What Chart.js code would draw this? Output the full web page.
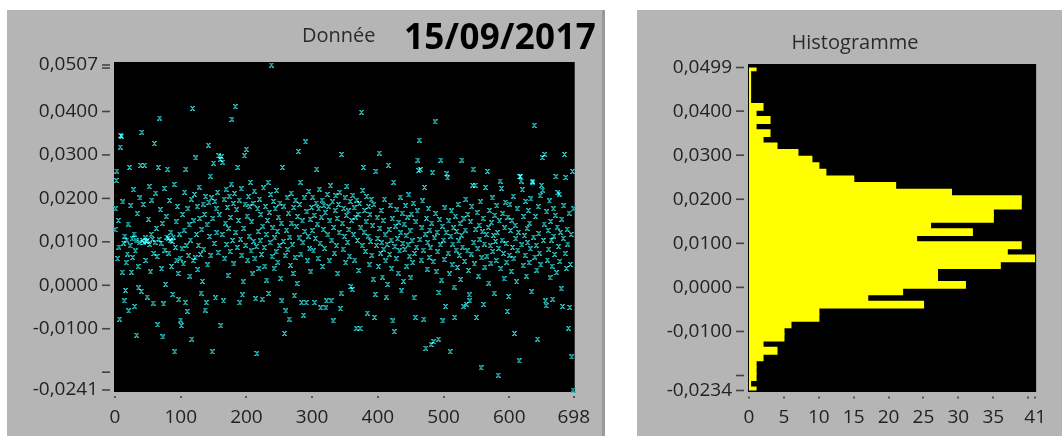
<!DOCTYPE html>
<html lang="fr">
<head>
<meta charset="utf-8">
<title>Donnée - Histogramme</title>
<script src="https://cdn.jsdelivr.net/npm/chart.js@4.4.1/dist/chart.umd.min.js"></script>
<style>
  html, body { margin: 0; padding: 0; background: #fff; }
  body { position: relative; width: 1062px; height: 436px; overflow: hidden; font-family: 'Open Sans', sans-serif; }
  .panneau { position: absolute; top: 10px; height: 426px; background: #b5b5b5; }
  #panneau-donnee { left: 7px; width: 595px; border-right: 3px solid #999; }
  #panneau-histo { left: 637px; width: 425px; }
  canvas { position: absolute; top: 0; }
  #chart-donnee { left: 0; }
  #chart-histo { left: 637px; }
  .texte { position: absolute; line-height: 1; white-space: nowrap; color: #2b2b2b; }
  #lbl-donnee { left: 302px; top: 25px; font-size: 20px; }
  #lbl-date { left: 404px; top: 18px; font-size: 35px; font-weight: 700; color: #000; letter-spacing: 0.3px; }
  #lbl-histo { left: 755px; width: 200px; text-align: center; top: 32px; font-size: 20px; }
</style>
</head>
<body>
<div class="panneau" id="panneau-donnee"></div>
<div class="panneau" id="panneau-histo"></div>
<canvas id="chart-donnee" width="606" height="436"></canvas>
<canvas id="chart-histo" width="425" height="436"></canvas>
<div class="texte" id="lbl-donnee">Donnée</div>
<div class="texte" id="lbl-date">15/09/2017</div>
<div class="texte" id="lbl-histo">Histogramme</div>
<script>
// Mesures du jour, une valeur par échantillon (index 0 à 698)
const VALEURS = [
  0.0128, 0.0176, 0.0241, 0.0263, 0.0061, 0.0149, 0.0088, -0.0078, 0.0318, 0.0345, 0.0343, 0.0030, 0.0192, 0.0097, -0.0036, 0.0113, -0.0012, 0.0052, 0.0104, 0.0072,
  0.0141, -0.0059, 0.0271, 0.0091, 0.0183, 0.0030, 0.0107, 0.0064, 0.0220, 0.0118, -0.0049, 0.0079, 0.0102, -0.0115, 0.0165, 0.0043, -0.0006, 0.0098, 0.0201, 0.0276,
  -0.0014, 0.0352, 0.0103, 0.0186, 0.0098, 0.0276, 0.0109, 0.0057, 0.0101, -0.0027, 0.0104, 0.0152, 0.0227, 0.0094, 0.0031, 0.0117, 0.0196, 0.0106, -0.0041, 0.0073,
  0.0326, 0.0099, 0.0212, 0.0131, 0.0066, -0.0091, 0.0271, 0.0105, 0.0385, 0.0174, 0.0097, 0.0038, 0.0142, -0.0119, -0.0043, 0.0223, 0.0081, 0.0002, 0.0158, 0.0111,
  0.0267, 0.0108, 0.0074, 0.0195, 0.0103, 0.0122, 0.0043, 0.0101, -0.0021, 0.0111, 0.0232, -0.0153, 0.0087, 0.0146, 0.0058, 0.0181, 0.0027, -0.0033, 0.0118, 0.0062,
  -0.0080, -0.0093, 0.0084, 0.0163, 0.0049, 0.0127, 0.0214, -0.0040, 0.0267, 0.0091, -0.0060, 0.0176, 0.0068, 0.0139, 0.0021, 0.0104, 0.0198, -0.0124, 0.0407, 0.0057,
  0.0148, 0.0209, 0.0063, 0.0293, 0.0117, 0.0181, 0.0036, 0.0092, 0.0226, 0.0154, 0.0071, -0.0018, 0.0128, 0.0009, 0.0187, 0.0083, 0.0163, -0.0057, 0.0204, -0.0040,
  0.0139, 0.0047, 0.0322, 0.0191, 0.0112, 0.0251, 0.0068, 0.0201, -0.0153, 0.0154, 0.0281, 0.0096, 0.0193, -0.0029, 0.0176, 0.0121, 0.0214, 0.0075, 0.0298, 0.0162,
  0.0290, -0.0093, 0.0296, 0.0117, 0.0283, -0.0036, 0.0198, 0.0061, 0.0143, 0.0221, 0.0094, 0.0179, 0.0022, 0.0131, 0.0205, 0.0078, 0.0156, 0.0233, 0.0382, 0.0103,
  0.0188, 0.0049, 0.0211, 0.0411, 0.0122, 0.0174, 0.0087, 0.0271, 0.0149, 0.0196, -0.0040, 0.0106, 0.0222, 0.0069, -0.0022, 0.0008, 0.0131, 0.0298, 0.0187, 0.0092,
  0.0313, 0.0159, 0.0058, 0.0204, 0.0113, 0.0181, 0.0237, 0.0079, 0.0146, 0.0026, 0.0188, 0.0101, 0.0217, 0.0061, -0.0031, 0.0089, -0.0157, 0.0176, 0.0124, 0.0039,
  0.0198, 0.0102, 0.0163, 0.0071, -0.0032, 0.0136, 0.0224, 0.0087, 0.0044, 0.0181, 0.0117, 0.0012, 0.0149, 0.0237, -0.0019, 0.0168, 0.0098, 0.0209, 0.0507, 0.0066,
  0.0132, 0.0193, 0.0038, 0.0109, 0.0176, 0.0077, 0.0218, 0.0124, 0.0053, 0.0157, 0.0091, 0.0189, 0.0016, 0.0143, -0.0036, 0.0271, 0.0101, 0.0182, -0.0111, 0.0068,
  -0.0059, 0.0127, 0.0201, 0.0082, 0.0166, -0.0078, 0.0111, 0.0046, 0.0212, 0.0143, 0.0093, 0.0027, 0.0179, -0.0024, 0.0064, 0.0196, 0.0135, 0.0004, 0.0158, 0.0308,
  0.0109, 0.0186, 0.0237, 0.0072, -0.0040, 0.0148, 0.0098, -0.0069, 0.0201, 0.0124, 0.0330, -0.0040, 0.0169, 0.0056, 0.0113, 0.0216, 0.0084, 0.0152, 0.0031, 0.0179,
  0.0126, 0.0203, 0.0079, 0.0161, -0.0040, 0.0108, 0.0189, 0.0267, 0.0141, 0.0062, 0.0176, 0.0221, 0.0097, -0.0052, 0.0157, 0.0196, 0.0043, 0.0128, 0.0184, 0.0085,
  0.0167, -0.0052, -0.0036, 0.0209, 0.0116, 0.0181, 0.0056, 0.0148, 0.0229, -0.0036, 0.0104, 0.0192, -0.0082, 0.0133, 0.0074, 0.0172, 0.0206, 0.0091, 0.0154, 0.0027,
  0.0186, 0.0121, 0.0214, -0.0054, -0.0018, 0.0301, 0.0143, 0.0083, 0.0177, 0.0112, 0.0201, 0.0052, 0.0161, 0.0228, 0.0099, 0.0171, 0.0128, 0.0067, 0.0193, -0.0003,
  0.0149, -0.0010, 0.0207, 0.0116, 0.0178, 0.0058, 0.0157, -0.0099, 0.0196, 0.0103, 0.0163, 0.0034, 0.0188, -0.0099, 0.0132, 0.0398, 0.0091, 0.0218, 0.0271, 0.0122,
  0.0172, 0.0078, 0.0146, 0.0204, -0.0064, 0.0113, 0.0181, 0.0047, 0.0163, 0.0101, 0.0197, 0.0069, 0.0137, 0.0014, 0.0186, -0.0074, -0.0021, 0.0262, 0.0092, 0.0155,
  0.0108, 0.0043, 0.0304, 0.0131, 0.0074, 0.0172, 0.0098, 0.0019, 0.0149, 0.0083, 0.0198, 0.0116, 0.0056, -0.0027, 0.0094, 0.0002, 0.0276, 0.0128, 0.0071, 0.0184,
  0.0104, 0.0038, 0.0153, -0.0082, 0.0237, -0.0107, 0.0089, 0.0136, 0.0061, 0.0174, 0.0107, 0.0028, 0.0145, 0.0079, 0.0203, 0.0121, -0.0013, 0.0166, 0.0096, 0.0009,
  0.0141, 0.0082, 0.0183, 0.0114, 0.0044, 0.0157, 0.0093, 0.0208, 0.0067, 0.0125, 0.0017, 0.0164, 0.0102, 0.0052, 0.0189, -0.0029, 0.0073, -0.0074, 0.0146, 0.0088,
  0.0171, 0.0288, 0.0264, 0.0334, 0.0105, 0.0266, 0.0058, 0.0132, 0.0194, 0.0081, -0.0078, 0.0225, 0.0118, -0.0145, 0.0154, 0.0037, 0.0098, 0.0176, 0.0064, 0.0127,
  0.0086, -0.0136, 0.0143, 0.0259, 0.0054, -0.0130, 0.0109, 0.0376, 0.0165, 0.0031, 0.0122, 0.0077, -0.0124, -0.0017, 0.0151, 0.0093, 0.0288, 0.0012, 0.0136, -0.0082,
  0.0104, 0.0059, 0.0178, -0.0049, 0.0121, 0.0257, 0.0247, 0.0074, 0.0148, 0.0026, -0.0153, 0.0113, 0.0171, 0.0047, 0.0095, 0.0132, -0.0004, -0.0074, 0.0159, 0.0081,
  0.0124, 0.0041, 0.0186, 0.0102, 0.0069, 0.0142, 0.0013, 0.0115, 0.0288, 0.0088, -0.0049, 0.0153, 0.0055, 0.0127, 0.0198, -0.0044, 0.0079, 0.0163, 0.0034, -0.0022,
  -0.0036, 0.0146, 0.0072, 0.0181, 0.0230, 0.0267, 0.0098, 0.0049, 0.0230, 0.0129, -0.0074, 0.0167, 0.0084, 0.0021, 0.0138, 0.0106, 0.0192, -0.0190, 0.0063, 0.0123,
  0.0154, -0.0044, 0.0095, 0.0042, 0.0225, 0.0117, 0.0067, 0.0262, 0.0133, 0.0005, 0.0172, 0.0091, 0.0051, 0.0144, 0.0201, 0.0078, 0.0115, -0.0018, 0.0161, 0.0101,
  0.0057, 0.0183, 0.0121, -0.0207, 0.0085, 0.0148, 0.0240, 0.0038, 0.0223, 0.0104, 0.0165, 0.0073, 0.0015, 0.0132, 0.0191, 0.0096, 0.0053, -0.0060, 0.0157, -0.0026,
  0.0069, 0.0186, 0.0126, 0.0032, 0.0149, 0.0087, 0.0205, 0.0061, -0.0111, 0.0138, 0.0107, 0.0008, 0.0176, 0.0081, 0.0122, -0.0174, 0.0250, 0.0250, 0.0240, 0.0093,
  0.0220, 0.0045, 0.0158, 0.0114, 0.0069, 0.0193, 0.0021, 0.0131, 0.0098, 0.0172, 0.0052, 0.0143, 0.0084, 0.0199, -0.0015, 0.0240, 0.0237, 0.0111, 0.0368, 0.0065,
  0.0158, 0.0092, 0.0035, -0.0124, 0.0181, 0.0119, 0.0074, 0.0206, 0.0047, 0.0230, 0.0294, 0.0219, 0.0103, 0.0141, 0.0301, -0.0036, -0.0047, 0.0169, 0.0058, 0.0126,
  0.0083, 0.0194, 0.0017, 0.0147, 0.0104, 0.0044, -0.0032, 0.0176, 0.0113, 0.0071, 0.0161, 0.0250, 0.0029, 0.0134, 0.0213, 0.0089, 0.0210, 0.0055, 0.0122, -0.0008,
  0.0152, -0.0049, 0.0108, 0.0183, 0.0301, 0.0073, 0.0248, 0.0039, 0.0129, 0.0095, -0.0099, 0.0166, -0.0051, 0.0048, 0.0117, -0.0165, 0.0262, -0.0241, 0.0176,
];

const VALEUR_MIN = -0.0241;
const VALEUR_MAX = 0.0507;
const TICKS_Y_DONNEE = [-0.0241, -0.02, -0.01, 0, 0.01, 0.02, 0.03, 0.04, 0.05, 0.0507];
const TICKS_X_DONNEE = [0, 100, 200, 300, 400, 500, 600, 698];

// Effectifs de l'histogramme, 50 classes, de la plus basse à la plus haute
const HISTO_COMPTES = [
  1, 0, 1, 1, 1, 2, 4, 2, 5, 5, 6, 10, 10, 25, 17, 22, 31, 27, 27, 36,
  41, 37, 39, 24, 32, 26, 35, 35, 39, 39, 29, 21, 15, 11, 10, 9, 7, 4, 2, 3,
  1, 3, 1, 2, 0, 0, 0, 0, 0, 1,
];
const TICKS_Y_HISTO = [-0.0234, -0.02, -0.01, 0, 0.01, 0.02, 0.03, 0.04, 0.0499];
const TICKS_X_HISTO = [0, 5, 10, 15, 20, 25, 30, 35, 40, 41];

// graduations tracées sans libellé
const TICKS_MUETS = [-0.02, 0.05, 40];

Chart.defaults.font.family = "'Open Sans', sans-serif";
Chart.defaults.font.size = 19;
Chart.defaults.color = '#222';

function estMuet(v) {
  return TICKS_MUETS.some((m) => Math.abs(m - v) < 1e-9);
}

function formaterValeur(v) {
  if (estMuet(v)) return '';
  return v.toFixed(4).replace('.', ',');
}

function formaterEntier(v) {
  return estMuet(v) ? '' : String(v);
}

// fond noir de la zone de tracé + petites graduations dans le gris
const cadreNoir = {
  id: 'cadreNoir',
  beforeDraw(chart, args, opts) {
    const { ctx, chartArea: a } = chart;
    ctx.save();
    ctx.fillStyle = '#000';
    ctx.fillRect(a.left - 1, a.top - opts.haut, a.right - a.left + 2, a.bottom - a.top + opts.haut + opts.bas);
    ctx.restore();
  },
  afterDraw(chart) {
    const { ctx, chartArea: a, scales } = chart;
    ctx.save();
    ctx.strokeStyle = '#444';
    ctx.lineWidth = 1.6;
    scales.y.ticks.forEach((t) => {
      const py = scales.y.getPixelForValue(t.value);
      ctx.beginPath();
      ctx.moveTo(a.left - 13, py);
      ctx.lineTo(a.left - 5, py);
      ctx.stroke();
    });
    ctx.fillStyle = '#555';
    scales.x.ticks.forEach((t) => {
      const px = scales.x.getPixelForValue(t.value);
      ctx.fillRect(Math.round(px) - 1, a.bottom + 6, 2, 2);
    });
    ctx.restore();
  },
};

// les marqueurs superposés s'additionnent
const lumiere = {
  id: 'lumiere',
  beforeDatasetsDraw(chart) {
    chart.ctx.save();
    chart.ctx.globalCompositeOperation = 'lighter';
  },
  afterDatasetsDraw(chart) {
    chart.ctx.restore();
  },
};

function creerMarqueur(couleur) {
  const c = document.createElement('canvas');
  c.width = 5;
  c.height = 5;
  const g = c.getContext('2d');
  g.fillStyle = couleur;
  const motif = ['##.##', '.###.', '..#..', '.###.', '##.##'];
  motif.forEach((ligne, y) => {
    [...ligne].forEach((ch, x) => {
      if (ch === '#') g.fillRect(x, y, 1, 1);
    });
  });
  return c;
}

function axeY(min, max, ticks, largeur) {
  return {
    type: 'linear',
    min,
    max,
    offset: false,
    grid: { display: false, drawTicks: false },
    border: { display: false },
    afterBuildTicks: (scale) => { scale.ticks = ticks.map((v) => ({ value: v })); },
    afterFit: (scale) => { scale.width = largeur; },
    ticks: { autoSkip: false, padding: 17, callback: formaterValeur },
  };
}

function axeX(min, max, ticks, hauteur, formatage) {
  return {
    type: 'linear',
    min,
    max,
    offset: false,
    grid: { display: false, drawTicks: false },
    border: { display: false },
    afterBuildTicks: (scale) => { scale.ticks = ticks.map((v) => ({ value: v })); },
    afterFit: (scale) => { scale.height = hauteur; },
    ticks: { autoSkip: false, maxRotation: 0, padding: 16, callback: formatage },
  };
}

function dessinerGraphiqueDonnee() {
  const ctx = document.getElementById('chart-donnee').getContext('2d');
  new Chart(ctx, {
    type: 'scatter',
    data: {
      datasets: [{
        label: 'Donnée',
        data: VALEURS.map((v, i) => ({ x: i, y: v })),
        pointStyle: creerMarqueur('rgb(38,186,186)'),
        pointRadius: 2.5,
        clip: 3,
      }],
    },
    options: {
      responsive: false,
      animation: false,
      devicePixelRatio: 1,
      layout: { padding: { left: 0, right: 27, top: 65, bottom: 0 } },
      plugins: {
        legend: { display: false },
        tooltip: { enabled: false },
        cadreNoir: { haut: 3, bas: 2 },
      },
      scales: {
        x: axeX(0, 698, TICKS_X_DONNEE, 46, formaterEntier),
        y: axeY(VALEUR_MIN, VALEUR_MAX, TICKS_Y_DONNEE, 115),
      },
    },
    plugins: [cadreNoir, lumiere],
  });
}

function dessinerGraphiqueHisto() {
  const ctx = document.getElementById('chart-histo').getContext('2d');
  // centres des classes réparties entre le min et le max des mesures
  const pas = (VALEUR_MAX - VALEUR_MIN) / HISTO_COMPTES.length;
  const donnees = HISTO_COMPTES.map((n, k) => ({ x: n, y: VALEUR_MIN + (k + 0.5) * pas }));

  new Chart(ctx, {
    type: 'bar',
    data: {
      datasets: [{
        label: 'Histogramme',
        data: donnees,
        backgroundColor: '#ffff00',
        borderWidth: 0,
        barPercentage: 1,
        categoryPercentage: 1,
        inflateAmount: 0.6,
        minBarLength: 1.5,
      }],
    },
    options: {
      indexAxis: 'y',
      responsive: false,
      animation: false,
      devicePixelRatio: 1,
      layout: { padding: { left: 0, right: 19, top: 67.5, bottom: 0 } },
      plugins: {
        legend: { display: false },
        tooltip: { enabled: false },
        cadreNoir: { haut: 3.5, bas: 1.5 },
      },
      scales: {
        x: axeX(0, 41, TICKS_X_HISTO, 45.5, formaterEntier),
        y: axeY(-0.0234, 0.0499, TICKS_Y_HISTO, 112),
      },
    },
    plugins: [cadreNoir],
  });
}

dessinerGraphiqueDonnee();
dessinerGraphiqueHisto();
</script>
</body>
</html>
